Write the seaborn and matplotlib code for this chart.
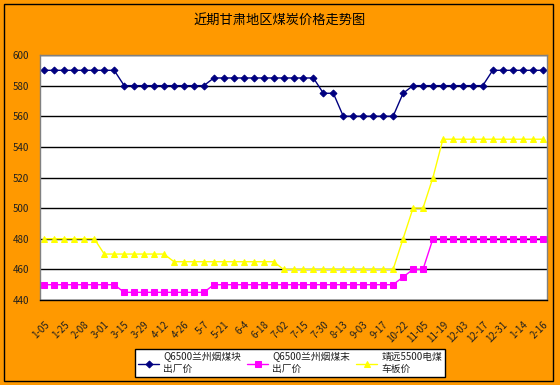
import numpy as np
import pandas as pd
import matplotlib
matplotlib.use("Agg")
import matplotlib.pyplot as plt
import matplotlib.transforms as mtransforms
from matplotlib.patches import Rectangle
import seaborn as sns

# 数据：51 个周度观测点，每隔一个点标注日期
tick_labels = ['1-05', '1-25', '2-08', '3-01', '3-15', '3-29', '4-12', '4-26', '5-7', '5-21',
               '6-4', '6-18', '7-02', '7-15', '7-30', '8-13', '9-03', '9-17', '10-22', '11-05',
               '11-19', '12-03', '12-17', '12-31', '1-14', '2-16']

lump_price = [590, 590, 590, 590, 590, 590, 590, 590,
              580, 580, 580, 580, 580, 580, 580, 580, 580,
              585, 585, 585, 585, 585, 585, 585, 585, 585, 585, 585,
              575, 575,
              560, 560, 560, 560, 560, 560,
              575,
              580, 580, 580, 580, 580, 580, 580, 580,
              590, 590, 590, 590, 590, 590]

fines_price = [450, 450, 450, 450, 450, 450, 450, 450,
               445, 445, 445, 445, 445, 445, 445, 445, 445,
               450, 450, 450, 450, 450, 450, 450, 450, 450, 450,
               450, 450, 450, 450, 450, 450, 450, 450, 450,
               455,
               460, 460,
               480, 480, 480, 480, 480, 480, 480, 480, 480, 480, 480, 480]

power_price = [480, 480, 480, 480, 480, 480,
               470, 470, 470, 470, 470, 470, 470,
               465, 465, 465, 465, 465, 465, 465, 465, 465, 465, 465,
               460, 460, 460, 460, 460, 460, 460, 460, 460, 460, 460, 460,
               480,
               500, 500,
               520,
               545, 545, 545, 545, 545, 545, 545, 545, 545, 545, 545]

series_names = ['Q6500兰州烟煤块\n出厂价', 'Q6500兰州烟煤末\n出厂价', '靖远5500电煤\n车板价']
colors = ['#000080', '#FF00FF', '#FFFF00']
markers = ['D', 's', '^']
msizes = [3.5, 4, 5]

idx = np.arange(len(lump_price))
df = pd.DataFrame({'idx': idx, series_names[0]: lump_price,
                   series_names[1]: fines_price, series_names[2]: power_price})

sns.set_style("white")
plt.rcParams['font.family'] = ['Noto Sans CJK SC', 'DejaVu Sans']

orange = '#FF9900'
fig = plt.figure(figsize=(5.6, 3.85), dpi=100, facecolor=orange)
ax = fig.add_axes([40 / 560, 1 - 300 / 385, 507 / 560, 245 / 385])
ax.set_facecolor('white')

for name, c, m, ms in zip(series_names, colors, markers, msizes):
    sns.lineplot(data=df, x='idx', y=name, ax=ax, color=c, marker=m, markersize=ms,
                 markeredgecolor=c, linewidth=1, label=name)

ax.set_xlim(-0.45, len(idx) - 0.55)
ax.set_ylim(440, 600)
ax.set_yticks(np.arange(440, 601, 20))
ax.yaxis.grid(True, color='black', linewidth=1)
ax.set_axisbelow(True)
ax.set_xlabel('')
ax.set_ylabel('')

ax.set_xticks(idx[::2])
ax.set_xticklabels(tick_labels, rotation=45, ha='right', va='top',
                   rotation_mode='anchor', fontsize=7, color='#202020')
# 标签整体向左下偏移，模仿原图
shift = mtransforms.ScaledTranslation(-8 / 100, 0, fig.dpi_scale_trans)
for lbl in ax.get_xticklabels():
    lbl.set_transform(lbl.get_transform() + shift)
ax.set_xticks(idx[:-1] + 0.5, minor=True)
ax.tick_params(axis='x', which='major', length=0, pad=14)
ax.tick_params(axis='x', which='minor', length=3, direction='in', color='black', width=0.8)
ax.tick_params(axis='y', length=0, pad=8, labelsize=7, labelcolor='#202020')

for s in ['left', 'top', 'right']:
    ax.spines[s].set_color('#808080')
    ax.spines[s].set_linewidth(1)
ax.spines['bottom'].set_color('black')
ax.spines['bottom'].set_linewidth(1)

fig.text(0.5, 1 - 20 / 385, '近期甘肃地区煤炭价格走势图', ha='center', va='center',
         fontsize=9.5, color='black')

leg = ax.legend(loc='center', bbox_to_anchor=(290 / 560, 1 - 363 / 385),
                bbox_transform=fig.transFigure, ncol=3, fontsize=7,
                frameon=True, fancybox=False, framealpha=1, edgecolor='black',
                handlelength=2.2, columnspacing=0.6, handletextpad=0.4,
                borderpad=0.3, labelspacing=0.2)
leg.get_frame().set_linewidth(1)
for t in leg.get_texts():
    t.set_color('#202020')

fig.patches.append(Rectangle((4 / 560, 4 / 385), 549 / 560, 377 / 385,
                             transform=fig.transFigure, fill=False,
                             edgecolor='black', linewidth=1))

fig.savefig('out.png', dpi=100, facecolor=orange)
